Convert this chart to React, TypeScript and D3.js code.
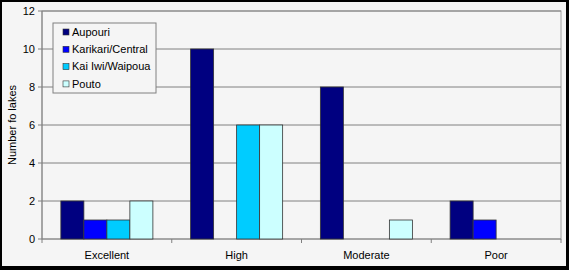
import React from "react";
import * as d3 from "d3";

const categories = ["Excellent", "High", "Moderate", "Poor"];
const seriesNames = ["Aupouri", "Karikari/Central", "Kai Iwi/Waipoua", "Pouto"];
const aupouri = [2, 10, 8, 2];
const karikari = [1, 0, 0, 1];
const kaiIwi = [1, 6, 0, 0];
const pouto = [2, 6, 1, 0];
const yTicks = [0, 2, 4, 6, 8, 10, 12];
const colors = ["#000080", "#0000ff", "#00ccff", "#ccffff"];

const W = 569;
const H = 270;
const left = 42;
const right = 561;
const top = 11;
const bottom = 239;
const font = "'Liberation Sans', Arial, sans-serif";

export default function App() {
  const series = [aupouri, karikari, kaiIwi, pouto];
  const x = d3.scaleBand<string>().domain(categories).range([left, right]).padding(0);
  const xi = d3
    .scaleBand<number>()
    .domain(d3.range(series.length))
    .range([0, x.bandwidth()])
    .paddingInner(0)
    .paddingOuter(0.82);
  const y = d3.scaleLinear().domain([0, 12]).range([bottom, top]);
  const boundaries = [...categories.map((c) => x(c) as number), right];

  return (
    <div style={{ position: "absolute", left: 0, top: 0 }}>
      <svg width={W} height={H} style={{ display: "block" }}>
        <rect x={0} y={0} width={W} height={H} fill="#000" />
        <rect x={2} y={2} width={W - 5} height={H - 6} fill="#f5f5f5" />
        <rect x={left} y={top} width={right - left} height={bottom - top} fill="#f5f5f5" stroke="#a0a0a0" strokeWidth={1} />
        {yTicks.map((t) => (
          <g key={t}>
            {t > 0 && (
              <line x1={left} x2={right} y1={y(t)} y2={y(t)} stroke="#808080" strokeWidth={1} />
            )}
            <line x1={left - 4} x2={left} y1={y(t)} y2={y(t)} stroke="#808080" />
            <text x={35} y={y(t)} dy="0.35em" textAnchor="end" fontFamily={font} fontSize={11} fill="#000">
              {t}
            </text>
          </g>
        ))}
        <line x1={left} x2={left} y1={top} y2={bottom} stroke="#808080" />
        <line x1={left} x2={right} y1={bottom} y2={bottom} stroke="#808080" />
        {boundaries.map((b, i) => (
          <line key={i} x1={b} x2={b} y1={bottom} y2={bottom + 4} stroke="#808080" />
        ))}
        {categories.map((c, ci) => (
          <g key={c}>
            {series.map((s, si) =>
              s[ci] > 0 ? (
                <rect
                  key={si}
                  x={(x(c) as number) + (xi(si) as number)}
                  y={y(s[ci])}
                  width={xi.bandwidth()}
                  height={bottom - y(s[ci])}
                  fill={colors[si]}
                  stroke="#333"
                  strokeWidth={0.8}
                />
              ) : null
            )}
            <text
              x={(x(c) as number) + x.bandwidth() / 2}
              y={255}
              dy="0.35em"
              textAnchor="middle"
              fontFamily={font}
              fontSize={11}
              fill="#000"
            >
              {c}
            </text>
          </g>
        ))}
        <text
          transform={`translate(12, ${(top + bottom) / 2}) rotate(-90)`}
          textAnchor="middle"
          dy="0.35em"
          fontFamily={font}
          fontSize={11}
          fill="#000"
        >
          Number fo lakes
        </text>
        <rect x={53} y={23} width={103} height={70} fill="#f5f5f5" stroke="#808080" strokeWidth={1} />
        {seriesNames.map((n, i) => (
          <g key={n}>
            <rect x={63} y={32 + i * 17.3 - 3} width={6} height={6} fill={colors[i]} stroke="#333" strokeWidth={0.6} />
            <text x={72} y={32 + i * 17.3} dy="0.35em" fontFamily={font} fontSize={11} fill="#000">
              {n}
            </text>
          </g>
        ))}
      </svg>
    </div>
  );
}
